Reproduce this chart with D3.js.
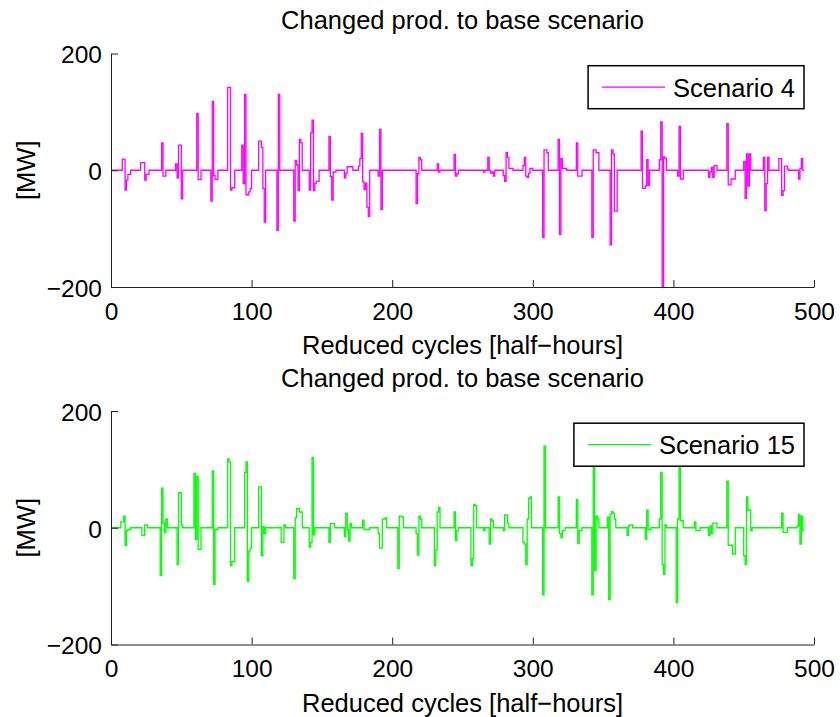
<!DOCTYPE html>
<html>

<head>
  <title>Changed prod. to base scenario</title>
  <script src="https://cdn.jsdelivr.net/npm/d3@7"></script>
  <style>
    body { margin: 0; background: #fff; }
    text { font-family: "Liberation Sans", Arial, Helvetica, sans-serif; fill: #000; }
  </style>
</head>

<body>
  <svg width="840" height="717" id="mainsvg"></svg>
  <script>
    // step points: [reduced cycle, MW]; the value holds until the next point
    const scenario4 = [
      [0, 0], [8, 19], [10, -34], [11, -17], [12, -7], [14, 0],
      [21, 13], [24, -17], [25, -7], [27, 0],
      [36, 47], [37, -10], [39, 0],
      [46, 11], [47, -13], [48, 43], [50, -49], [51, 0],
      [61, 97], [62, -16], [64, 0],
      [71, -53], [72, 118], [73, -9], [74, -16], [76, 0],
      [83, 142], [85, -34], [86, -30], [88, 0],
      [93, 43], [94, -23], [95, 130], [96, -42], [98, -37], [99, -31], [100, 0],
      [105, 50], [107, 39], [108, -31], [109, -89], [110, 0],
      [118, -103], [119, 130], [120, 0],
      [130, -87], [131, 17], [132, 9], [133, -35], [134, 53], [135, 47], [136, 0],
      [141, -34], [142, 64], [143, 86], [144, -35], [145, -22], [146, -19], [148, 0],
      [155, 58], [156, -11], [157, -51], [158, -3], [160, 0],
      [166, -13], [167, -5], [168, 6], [172, 0],
      [176, 7], [177, 20], [178, 63], [179, -20], [180, -33], [181, -22], [182, -63], [183, -79], [184, 0],
      [190, -10], [191, 70], [192, -67], [193, 0],
      [217, -57], [218, -6], [219, 22], [220, 18], [221, 0],
      [232, 11], [233, -3], [234, 0],
      [244, 27], [245, -10], [246, -6], [247, 0],
      [265, -3], [266, 0], [268, 22], [269, 0], [270, -5], [271, -3], [272, -10], [273, 0],
      [279, -9], [280, -19], [281, 30], [282, 22], [283, 3], [286, 0],
      [293, 8], [294, 22], [295, -10], [296, -12], [297, -5], [298, 3], [300, 0],
      [307, -115], [308, 35], [310, 30], [311, 0],
      [318, 53], [319, -110], [320, 20], [321, 3], [324, 0],
      [331, 47], [332, -10], [335, 0],
      [342, -115], [343, 35], [345, 30], [347, 0],
      [355, -128], [356, 35], [357, 28], [358, -70], [360, 0],
      [377, 67], [378, -31], [380, -27], [381, 18], [382, -26], [383, 0],
      [390, 18], [391, 83], [392, -215], [393, 23], [394, 20], [395, 0],
      [403, -10], [404, 75], [405, -15], [407, 0],
      [425, -12], [426, -3], [427, 5], [428, -12], [429, 8], [431, 0],
      [438, 80], [439, -25], [441, -15], [444, 0],
      [450, 15], [451, -48], [452, 28], [453, -27], [454, 28], [455, 0],
      [464, 22], [465, -69], [466, -23], [467, 22], [468, 0],
      [475, 20], [477, -43], [478, -35], [479, 7], [481, 2], [482, 0],
      [489, -15], [490, 3], [491, 20], [492, 0], [493, 0]
    ];

    const scenario15 = [
      [0, 0], [7, 10], [9, 20], [10, -30], [11, -5], [12, -3], [14, 0],
      [22, -13], [24, 5], [26, 0],
      [35, -82], [36, 68], [37, 8], [38, -8], [39, 15], [40, 0],
      [47, -63], [48, 60], [50, 5], [51, 0],
      [59, 93], [60, -20], [61, 88], [62, -37], [64, 0],
      [72, 97], [73, -97], [74, -3], [76, 0],
      [83, 118], [84, 113], [85, -65], [86, -58], [88, 0],
      [95, 95], [96, 113], [97, -92], [98, -40], [99, -35], [100, 0],
      [105, 70], [107, -48], [108, 2], [109, -10], [110, 0],
      [121, -25], [123, 5], [124, 0],
      [130, -87], [131, 17], [132, 33], [134, 27], [136, 0],
      [141, -33], [142, -25], [143, 120], [144, -12], [145, 0],
      [155, -25], [156, 7], [159, 0],
      [166, -15], [167, 25], [168, -3], [169, -23], [170, 7], [171, 0],
      [179, 13], [180, -3], [184, 0],
      [190, -10], [191, -35], [193, 15], [195, 17], [196, 0],
      [204, -70], [205, 20], [207, 18], [208, 0],
      [217, -10], [218, -47], [219, 20], [220, 15], [221, 0],
      [230, -65], [231, -38], [232, 27], [233, 35], [234, 0],
      [244, 27], [245, -22], [246, -5], [247, 0],
      [256, -65], [257, -53], [258, 40], [259, 38], [260, 0],
      [265, -5], [266, 0],
      [269, -28], [270, 15], [271, 12], [272, 0],
      [279, -5], [280, 22], [282, 8], [283, 0],
      [293, -25], [294, -28], [295, -63], [296, 15], [297, 50], [298, 53], [299, 0],
      [307, -115], [308, 140], [309, 0],
      [318, 53], [319, -10], [320, -17], [321, -5], [323, 0],
      [331, 48], [332, -27], [333, -5], [335, 0],
      [342, -115], [343, 120], [344, -73], [345, 20], [346, 15], [347, 0],
      [353, 18], [354, -123], [355, 23], [356, 28], [357, 25], [358, 15], [359, 0],
      [367, -13], [368, 3], [369, 5], [371, 0],
      [380, -20], [381, 30], [382, -3], [384, 0],
      [390, 15], [391, 95], [392, -63], [393, -80], [394, 5], [395, 0],
      [402, -128], [403, 15], [404, 110], [405, 12], [407, 0],
      [415, 10], [416, -5], [419, 0],
      [425, -13], [426, 3], [427, -10], [428, 8], [431, 0],
      [438, 80], [439, -30], [442, -45], [444, 0],
      [450, -48], [451, -63], [452, 53], [453, 30], [455, -5], [456, 0],
      [477, 25], [478, -8], [481, 0],
      [488, 3], [489, 23], [490, -28], [491, 20], [492, -5], [493, -5]
    ];

    const seriesNames = ['Scenario 4', 'Scenario 15'];
    const seriesColors = ['#ff00ff', '#00ff00'];
    const xTicks = [0, 100, 200, 300, 400, 500];
    const yTicks = [-200, 0, 200];
    const xDomain = [0, 500];
    const yDomain = [-200, 200];
    const titleText = 'Changed prod. to base scenario';
    const xLabelText = 'Reduced cycles [half\u2212hours]';
    const yLabelText = '[MW]';

    const svg = d3.select('#mainsvg');
    const left = 111, right = 814;
    const panelTops = [53.5, 411];
    const innerWidth = right - left;
    const innerHeight = 233.5;
    const labelSize = 25.5, tickSize = 24.5;

    const xScale = d3.scaleLinear().domain(xDomain).range([0, innerWidth]);
    const yScale = d3.scaleLinear().domain(yDomain).range([innerHeight, 0]);

    const line = d3.line()
      .x(d => xScale(d[0]))
      .y(d => yScale(d[1]))
      .curve(d3.curveStepAfter);

    const fmt = v => (v < 0 ? '\u2212' + Math.abs(v) : String(v));

    // one clip rect shared by both panels (each panel group is translated)
    svg.append('defs').append('clipPath').attr('id', 'plotclip')
      .append('rect')
      .attr('x', 0).attr('y', 0)
      .attr('width', innerWidth).attr('height', innerHeight);

    [scenario4, scenario15].forEach((data, i) => {
      const g = svg.append('g')
        .attr('transform', `translate(${left}, ${panelTops[i]})`);

      // the series
      g.append('path')
        .datum(data)
        .attr('clip-path', 'url(#plotclip)')
        .attr('fill', 'none')
        .attr('stroke', seriesColors[i])
        .attr('stroke-width', 1.3)
        .attr('d', line);

      // axes, ticks pointing inward like matlab
      const xAxis = d3.axisBottom(xScale)
        .tickValues(xTicks)
        .tickSizeInner(-7)
        .tickSizeOuter(0)
        .tickPadding(15.6)
        .tickFormat(fmt);
      const yAxis = d3.axisLeft(yScale)
        .tickValues(yTicks)
        .tickSizeInner(-7)
        .tickSizeOuter(0)
        .tickPadding(9)
        .tickFormat(fmt);

      const xAxisGroup = g.append('g')
        .attr('transform', `translate(0, ${innerHeight})`)
        .call(xAxis);
      const yAxisGroup = g.append('g').call(yAxis);

      [xAxisGroup, yAxisGroup].forEach(ag => {
        ag.attr('font-size', tickSize).attr('font-family', null);
        ag.selectAll('path, line').attr('stroke', '#222').attr('stroke-width', 1);
        ag.selectAll('text').attr('fill', '#000');
      });
      yAxisGroup.selectAll('text').attr('dy', '0.38em');

      // title and axis labels
      g.append('text')
        .attr('x', innerWidth / 2)
        .attr('y', -24.5)
        .attr('text-anchor', 'middle')
        .attr('font-size', labelSize)
        .text(titleText);

      g.append('text')
        .attr('x', innerWidth / 2)
        .attr('y', innerHeight + 67)
        .attr('text-anchor', 'middle')
        .attr('font-size', labelSize)
        .text(xLabelText);

      g.append('text')
        .attr('transform', 'rotate(-90)')
        .attr('x', -innerHeight / 2)
        .attr('y', -76)
        .attr('text-anchor', 'middle')
        .attr('font-size', labelSize)
        .text(yLabelText);

      // legend in the upper right corner
      const legend = g.append('g');
      const legendBox = legend.append('rect')
        .attr('fill', '#fff')
        .attr('stroke', '#000')
        .attr('stroke-width', 1.5);
      const legendText = legend.append('text')
        .attr('font-size', labelSize)
        .text(seriesNames[i]);
      const textW = legendText.node().getComputedTextLength();
      const boxRight = innerWidth - 10;
      const boxTop = 12.2;
      const textX = boxRight - 9 - textW;
      const lineX2 = textX - 8;
      const lineX1 = lineX2 - 63;
      const boxLeft = lineX1 - 14;
      legendText.attr('x', textX).attr('y', boxTop + 31);
      legendBox
        .attr('x', boxLeft).attr('y', boxTop)
        .attr('width', boxRight - boxLeft).attr('height', 43);
      legend.append('line')
        .attr('x1', lineX1).attr('x2', lineX2)
        .attr('y1', boxTop + 21.5).attr('y2', boxTop + 21.5)
        .attr('stroke', seriesColors[i])
        .attr('stroke-width', 1.3);
    });
  </script>
</body>

</html>
